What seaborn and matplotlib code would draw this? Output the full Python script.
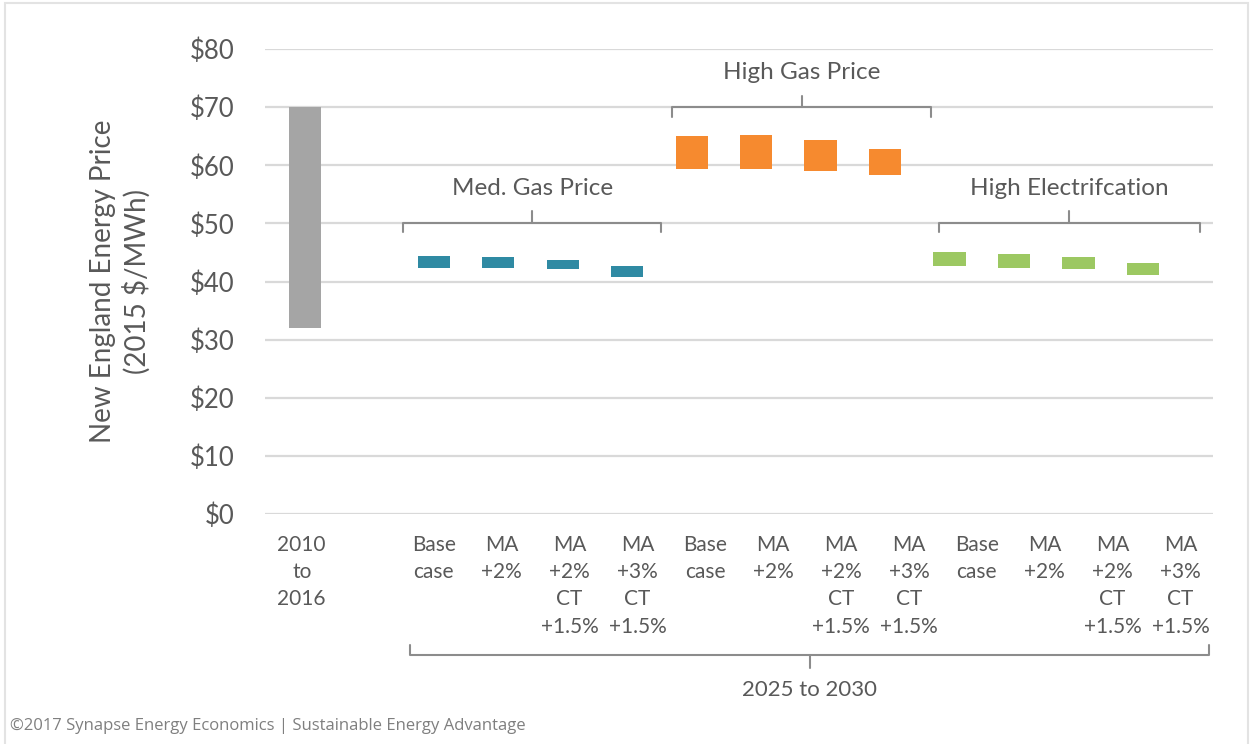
import pandas as pd
import matplotlib.pyplot as plt
import seaborn as sns
from matplotlib.patches import Rectangle

# values (2015 $/MWh), bar = low..high range
hist_label = "2010\nto\n2016"
hist_low = [32.0]
hist_high = [70.0]

scenario_labels = ["Base\ncase", "MA\n+2%", "MA\n+2%\nCT\n+1.5%", "MA\n+3%\nCT\n+1.5%"]
group_names = ["Med. Gas Price", "High Gas Price", "High Electrifcation"]

med_low = [42.3, 42.3, 42.1, 40.8]
med_high = [44.4, 44.3, 43.7, 42.7]
gas_low = [59.3, 59.3, 59.1, 58.3]
gas_high = [65.1, 65.2, 64.3, 62.8]
elec_low = [42.6, 42.3, 42.1, 41.1]
elec_high = [45.1, 44.7, 44.3, 43.2]

y_ticks = [0, 10, 20, 30, 40, 50, 60, 70, 80]
y_tick_labels = ["$0", "$10", "$20", "$30", "$40", "$50", "$60", "$70", "$80"]

colors = {"hist": "#A5A5A5", group_names[0]: "#2F8AA3",
          group_names[1]: "#F68A2F", group_names[2]: "#9CC862"}
text_color = "#595959"
bracket_color = "#8C8C8C"


def build_frame():
    rows = [{"key": "hist", "group": "hist", "low": hist_low[0], "high": hist_high[0]}]
    for name, lows, highs in zip(group_names, [med_low, gas_low, elec_low],
                                 [med_high, gas_high, elec_high]):
        for i, (lo, hi) in enumerate(zip(lows, highs)):
            rows.append({"key": f"{name}|{i}", "group": name, "low": lo, "high": hi})
    df = pd.DataFrame(rows)
    df["span"] = df["high"] - df["low"]
    return df


def bracket(ax, x0, x1, y, hook, tick, **kw):
    xm = (x0 + x1) / 2
    ax.plot([x0, x0, x1, x1], [y + hook, y, y, y + hook], clip_on=False, **kw)
    ax.plot([xm, xm], [y, y + tick], clip_on=False, **kw)


df = build_frame()
order = ["hist", "gap"] + [k for k in df["key"] if k != "hist"]
tick_labels = [hist_label] + scenario_labels * 3

sns.set_theme(style="white")
plt.rcParams["font.family"] = ["Lato", "DejaVu Sans"]

fig = plt.figure(figsize=(12.5, 7.44), dpi=100)
ax = fig.add_axes([0.212, 0.309, 0.758, 0.625])

for grp, sub in df.groupby("group", sort=False):
    sns.barplot(data=sub, x="key", y="span", order=order, bottom=sub["low"].values,
                color=colors[grp], saturation=1, width=0.5, errorbar=None,
                linewidth=0, ax=ax)

ax.set_xlim(-0.62, 14.08)
ax.set_ylim(0, 80)
ax.set_yticks(y_ticks)
ax.set_yticklabels(y_tick_labels)
# the original spaces its category labels a little wider than its bars
ax.set_xticks([-0.05] + [2 + 1.053 * k for k in range(12)])
ax.set_xticklabels(tick_labels, linespacing=1.45)
ax.tick_params(axis="y", length=0, pad=22, labelsize=18.5, labelcolor=text_color)
ax.tick_params(axis="x", length=0, pad=15, labelsize=15, labelcolor=text_color)
ax.set_xlabel("")
ax.set_ylabel("New England Energy Price\n(2015 $/MWh)", fontsize=20,
              color=text_color, linespacing=1.25)
ax.yaxis.set_label_coords(-0.121, 0.5)
ax.set_axisbelow(True)
ax.yaxis.grid(True, color="#D9D9D9", linewidth=1.6)
ax.xaxis.grid(False)
for s in ax.spines.values():
    s.set_visible(False)

# group brackets and titles
kw = dict(color=bracket_color, lw=1.5, solid_capstyle="round")
spans = [(1.52, 5.53, 50.1, 56.1), (5.69, 9.72, 70.0, 75.9), (9.84, 13.88, 50.1, 56.1)]
for name, (x0, x1, y, ty) in zip(group_names, spans):
    bracket(ax, x0, x1, y, -1.6, 2.0, **kw)
    ax.text((x0 + x1) / 2, ty, name, ha="center", va="center", fontsize=17.5,
            color=text_color)

# period bracket under the tick labels
bracket(ax, 1.63, 14.03, -24.3, 1.7, -2.2, **kw)
ax.text((1.63 + 14.03) / 2, -30.3, "2025 to 2030", ha="center", va="center",
        fontsize=16, color=text_color, clip_on=False)

fig.text(0.008, 1 - 726 / 744, "©2017 Synapse Energy Economics | Sustainable Energy Advantage",
         fontsize=12, color="#7F7F7F", va="center", family=["Open Sans", "DejaVu Sans"])
fig.patches.append(Rectangle((0.004, -0.01), 0.994, 1.006, transform=fig.transFigure,
                             fill=False, edgecolor="#E3E3E3", lw=1.5))

fig.savefig("out.png", dpi=100)
